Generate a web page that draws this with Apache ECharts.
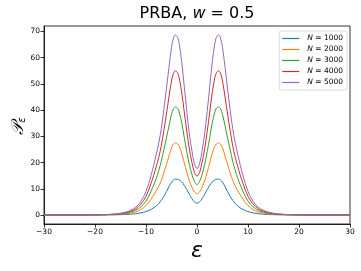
<!DOCTYPE html>
<html>
<head>
<meta charset="utf-8">
<script src="https://cdn.jsdelivr.net/npm/echarts@6/dist/echarts.min.js"></script>
<style>
html,body{margin:0;padding:0;background:#fff;}
#c{width:361px;height:271px;}
</style>
</head>
<body>
<div id="c"></div>
<script>
// epsilon sample positions
var eps = [-30,-25,-22,-20,-18,-16,-15,-14,-13,-12,-11,-10,-9,-8.5,-8,-7.5,-7,-6.5,-6,-5.5,-5,-4.6,-4.2,-3.8,-3.5,-3,-2.5,-2,-1.5,-1,-0.5,0,
           0.5,1,1.5,2,2.5,3,3.5,3.8,4.2,4.6,5,5.5,6,6.5,7,7.5,8,8.5,9,10,11,12,13,14,15,16,18,20,22,25,30];
var seriesNames = ["N = 1000","N = 2000","N = 3000","N = 4000","N = 5000"];
var n1000 = [0,0,0,0.01,0.03,0.07,0.11,0.18,0.3,0.5,0.8,1.3,2.1,2.7,3.4,4.4,5.6,7.1,8.9,10.8,12.5,13.4,13.7,13.6,13.4,12.6,11.3,9.7,7.9,6.2,5.0,4.5,
             5.0,6.2,7.9,9.7,11.3,12.6,13.4,13.6,13.7,13.4,12.5,10.8,8.9,7.1,5.6,4.4,3.4,2.7,2.1,1.3,0.8,0.5,0.3,0.18,0.11,0.07,0.03,0.01,0,0,0];
var n2000 = [0,0,0.01,0.02,0.06,0.16,0.26,0.44,0.72,1.2,2.1,3.6,6.0,7.6,9.2,11,13.2,16.1,19.2,22.5,25.6,27.1,27.5,27.1,26.2,23.6,19.9,16.3,13.1,10.6,8.8,8.1,
             8.8,10.6,13.1,16.3,19.9,23.6,26.2,27.1,27.5,27.1,25.6,22.5,19.2,16.1,13.2,11,9.2,7.6,6.0,3.6,2.1,1.2,0.72,0.44,0.26,0.16,0.06,0.02,0.01,0,0];
var n3000 = [0,0,0.01,0.04,0.09,0.24,0.4,0.66,1.1,1.8,3.1,5.3,9.1,11.4,13.9,17,20.5,25,29.3,34,38.4,40.6,41.2,40.7,39.3,35.2,29.6,24.1,19.3,15.5,12.8,11.6,
             12.8,15.5,19.3,24.1,29.6,35.2,39.3,40.7,41.2,40.6,38.4,34,29.3,25,20.5,17,13.9,11.4,9.1,5.3,3.1,1.8,1.1,0.66,0.4,0.24,0.09,0.04,0.01,0,0];
var n4000 = [0,0,0.02,0.05,0.12,0.32,0.52,0.9,1.45,2.4,4.2,7.1,12.1,15.1,18.4,22,26.4,32.2,38.5,45,51.1,54.1,55,54.2,52.4,46.8,39.3,31.8,25.2,20.1,16.2,14.8,
             16.2,20.1,25.2,31.8,39.3,46.8,52.4,54.2,55,54.1,51.1,45,38.5,32.2,26.4,22,18.4,15.1,12.1,7.1,4.2,2.4,1.45,0.9,0.52,0.32,0.12,0.05,0.02,0,0];
var n5000 = [0,0,0.02,0.06,0.15,0.4,0.65,1.1,1.8,3.0,5.2,9.0,15.1,18.9,23,27.5,33,40.2,48.1,56.3,63.9,67.6,68.7,67.8,65.5,58.5,49,39.5,31,24.5,19.5,17.7,
             19.5,24.5,31,39.5,49,58.5,65.5,67.8,68.7,67.6,63.9,56.3,48.1,40.2,33,27.5,23,18.9,15.1,9.0,5.2,3.0,1.8,1.1,0.65,0.4,0.15,0.06,0.02,0,0];
var yTicks = [0,10,20,30,40,50,60,70];
var xTicks = [-30,-20,-10,0,10,20,30];

var colors = ["#1f77b4","#ff7f0e","#2ca02c","#d62728","#9467bd"];
var allVals = [n1000,n2000,n3000,n4000,n5000];

function pairs(v){ return eps.map(function(x,i){ return [x, v[i]]; }); }
function fmt(v){ return String(v).replace('-', '\u2212'); }

var series = allVals.map(function(v,i){
  return {
    name: seriesNames[i], type:'line', data: pairs(v), smooth: 0.35,
    showSymbol:false, symbol:'none', lineStyle:{width:1, color:colors[i]}, itemStyle:{color:colors[i]},
    animation:false
  };
});

var chart = echarts.init(document.getElementById('c'), null, {renderer:'canvas'});
var font = 'DejaVu Sans';
chart.setOption({
  animation:false,
  color: colors,
  textStyle:{fontFamily:font},
  grid:{left:44, right:11, top:26, bottom:47, show:true, borderColor:'#000', borderWidth:0.8, containLabel:false},
  xAxis:{type:'value', min:-30, max:30, interval:10,
    axisLine:{show:true, onZero:false, lineStyle:{color:'#000', width:0.8}},
    axisTick:{show:true, length:3.5, inside:false, lineStyle:{color:'#000', width:0.8}},
    axisLabel:{color:'#000', fontSize:7.5, fontFamily:font, margin:4, formatter:function(v){return fmt(v);}},
    splitLine:{show:false}},
  yAxis:{type:'value', min:-3.44, max:72.1,
    axisLine:{show:true, onZero:false, lineStyle:{color:'#000', width:0.8}},
    axisTick:{show:true, length:3.5, inside:false, customValues:yTicks, lineStyle:{color:'#000', width:0.8}},
    axisLabel:{color:'#000', fontSize:7.5, fontFamily:font, margin:4, customValues:yTicks, formatter:function(v){return fmt(v);}},
    splitLine:{show:false}},
  legend:{
    orient:'vertical', right:14, top:31, data:seriesNames,
    icon:'rect', itemWidth:17, itemHeight:1.2, itemGap:2,
    padding:[3,4,3,3], borderColor:'#d0d0d0', borderWidth:0.8, borderRadius:2, backgroundColor:'#fff',
    textStyle:{fontSize:7.5, fontFamily:font, color:'#000', lineHeight:9, padding:[0,0,0,3],
      rich:{i:{fontStyle:'italic', fontSize:7.5, fontFamily:font, color:'#000'}, t:{fontSize:7.5, fontFamily:font, color:'#000'}}},
    formatter:function(name){ return '{i|N}{t| = ' + name.split('= ')[1] + '}'; }
  },
  graphic:[
    {type:'text', x:197, y:14, style:{text:'{a|PRBA, }{b|w}{a| = 0.5}', align:'center', verticalAlign:'middle',
      rich:{a:{fontSize:16, fontFamily:font, fill:'#000'}, b:{fontSize:16, fontFamily:font, fontStyle:'italic', fill:'#000'}}}},
    {type:'text', x:197, y:251, style:{text:'\u03b5', align:'center', verticalAlign:'middle', fontSize:22, fontFamily:font, fontStyle:'italic', fill:'#000'}},
    {type:'text', x:19, y:126, rotation:Math.PI/2, style:{text:'{p|\ud835\udcab}{s|\u03b5}', align:'center', verticalAlign:'middle',
      rich:{p:{fontSize:17, fontFamily:font, fill:'#000', fontStyle:'italic'}, s:{fontSize:10, fontFamily:font, fill:'#000', fontStyle:'italic', verticalAlign:'bottom', padding:[6,0,0,0]}}}}
  ],
  series: series
});
</script>
</body>
</html>
